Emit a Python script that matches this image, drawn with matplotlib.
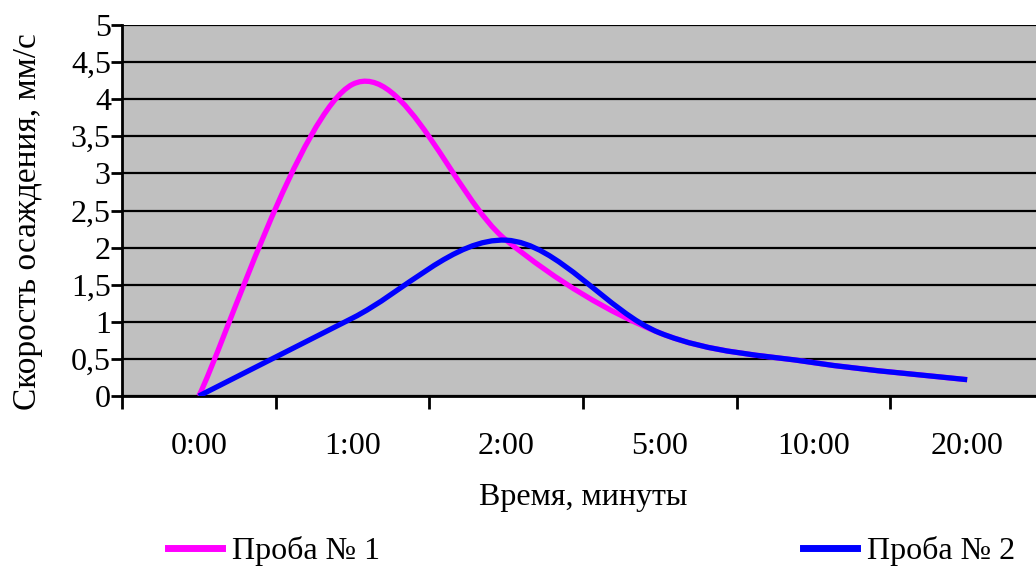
import numpy as np
import matplotlib.pyplot as plt
from matplotlib.path import Path
from matplotlib.patches import PathPatch
from matplotlib.lines import Line2D

plt.rcParams['font.family'] = ['Liberation Serif', 'DejaVu Serif']

categories = ["0:00", "1:00", "2:00", "5:00", "10:00", "20:00"]
sample1 = [0, 4.2, 2.1, 0.85, 0.45, 0.22]
sample2 = [0, 1.05, 2.1, 0.85, 0.45, 0.22]
yticks = [0, 0.5, 1, 1.5, 2, 2.5, 3, 3.5, 4, 4.5, 5]
ytick_labels = ["0", "0,5", "1", "1,5", "2", "2,5", "3", "3,5", "4", "4,5", "5"]


def smooth_path(xs, ys):
    # spreadsheet-style smoothed line: cubic bezier through every point
    pts = np.column_stack([xs, ys]).astype(float)
    n = len(pts)
    verts = [pts[0]]
    codes = [Path.MOVETO]
    for i in range(n - 1):
        p0 = pts[max(i - 1, 0)]
        p1 = pts[i]
        p2 = pts[i + 1]
        p3 = pts[min(i + 2, n - 1)]
        c1 = p1 + (p2 - p0) / 6
        c2 = p2 - (p3 - p1) / 6
        verts += [c1, c2, p2]
        codes += [Path.CURVE4] * 3
    return Path(verts, codes)


fig = plt.figure(figsize=(10.36, 5.67), dpi=100)
ax = fig.add_axes([122 / 1036, 1 - 396 / 567, (1044 - 122) / 1036, 371 / 567])
ax.set_facecolor("#c0c0c0")

x = np.arange(len(categories)) + 0.5
for vals, col in [(sample1, "#ff00ff"), (sample2, "#0000ff")]:
    ax.add_patch(PathPatch(smooth_path(x, vals), facecolor="none",
                           edgecolor=col, lw=3.8, capstyle="butt", zorder=3))

ax.set_xlim(0, len(categories))
ax.set_ylim(0, 5)
ax.set_yticks(yticks)
ax.set_yticklabels(ytick_labels)
ax.set_xticks(np.arange(len(categories) + 1))
ax.set_xticklabels([])
ax.set_xticks(x, minor=True)
ax.set_xticklabels(categories, minor=True)
ax.tick_params(axis="x", which="minor", length=0, pad=26)
ax.tick_params(axis="x", which="major", length=9, width=2, color="black")
ax.tick_params(axis="y", length=8, width=2, pad=0, color="black")
ax.tick_params(which="both", labelsize=23, labelcolor="black")

ax.yaxis.grid(True, color="black", lw=1.6)
ax.set_axisbelow(True)
for side in ["top", "right"]:
    ax.spines[side].set_visible(False)
for side in ["left", "bottom"]:
    ax.spines[side].set_linewidth(2)
    ax.spines[side].set_color("black")

fig.text(28 / 1036, 1 - 222 / 567, "Скорость осаждения, мм/с", rotation=90,
         ha="center", va="center", fontsize=24)
fig.text(583 / 1036, 1 - 497 / 567, "Время, минуты", ha="center", va="center",
         fontsize=23)

handles = [Line2D([], [], color="#ff00ff", lw=5),
           Line2D([], [], color="#0000ff", lw=5)]
fig.legend(handles, ["Проба № 1", "Проба № 2"], ncol=2, frameon=False,
           fontsize=23, loc="center left", bbox_to_anchor=(168 / 1036, 1 - 551 / 567),
           handlelength=1.7, handletextpad=0.3, columnspacing=13.25,
           borderpad=0, borderaxespad=0)

fig.savefig("out.png", dpi=100)
